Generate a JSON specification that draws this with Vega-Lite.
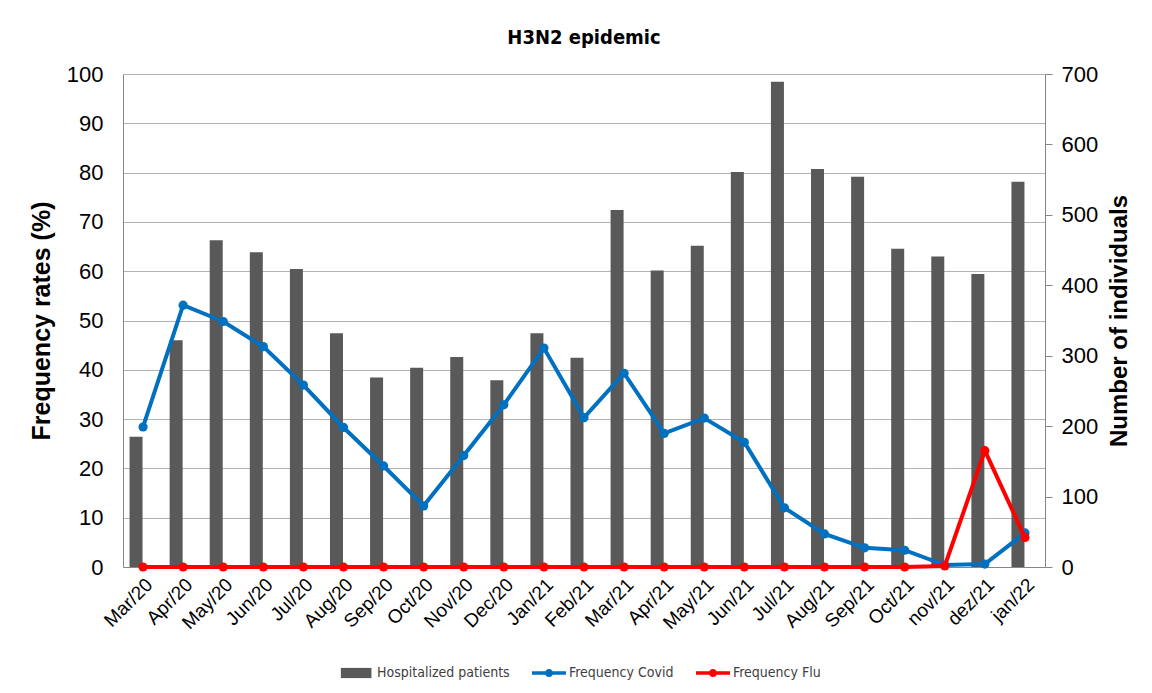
{
  "$schema": "https://vega.github.io/schema/vega-lite/v6.json",
  "width": 922,
  "height": 493,
  "autosize": {"type": "none"},
  "padding": {"left": 123, "top": 74, "right": 107, "bottom": 126},
  "background": "white",
  "title": {
    "text": "H3N2 epidemic",
    "font": "Liberation Sans Narrow, DejaVu Sans Condensed, Roboto",
    "fontSize": 20,
    "fontWeight": "bold",
    "color": "#000000",
    "anchor": "middle",
    "offset": 15
  },
  "config": {
    "view": {"stroke": null},
    "axis": {
      "labelFont": "Liberation Sans",
      "titleFont": "Liberation Sans",
      "labelColor": "#000000",
      "titleColor": "#000000",
      "domainColor": "#868686",
      "tickColor": "#868686",
      "gridColor": "#b3b3b3"
    }
  },
  "data": {
    "values": [
      {"month": "Mar/20", "hospitalized": 185, "covid": 28.4, "flu": 0},
      {"month": "Apr/20", "hospitalized": 322, "covid": 53.1, "flu": 0},
      {"month": "May/20", "hospitalized": 464, "covid": 49.8, "flu": 0},
      {"month": "Jun/20", "hospitalized": 447, "covid": 44.7, "flu": 0},
      {"month": "Jul/20", "hospitalized": 423, "covid": 36.9, "flu": 0},
      {"month": "Aug/20", "hospitalized": 332, "covid": 28.3, "flu": 0},
      {"month": "Sep/20", "hospitalized": 269, "covid": 20.5, "flu": 0},
      {"month": "Oct/20", "hospitalized": 283, "covid": 12.4, "flu": 0},
      {"month": "Nov/20", "hospitalized": 298, "covid": 22.6, "flu": 0},
      {"month": "Dec/20", "hospitalized": 265, "covid": 32.9, "flu": 0},
      {"month": "Jan/21", "hospitalized": 332, "covid": 44.4, "flu": 0},
      {"month": "Feb/21", "hospitalized": 297, "covid": 30.3, "flu": 0},
      {"month": "Mar/21", "hospitalized": 507, "covid": 39.3, "flu": 0},
      {"month": "Apr/21", "hospitalized": 421, "covid": 27.1, "flu": 0},
      {"month": "May/21", "hospitalized": 456, "covid": 30.2, "flu": 0},
      {"month": "Jun/21", "hospitalized": 561, "covid": 25.3, "flu": 0},
      {"month": "Jul/21", "hospitalized": 689, "covid": 12.0, "flu": 0},
      {"month": "Aug/21", "hospitalized": 565, "covid": 6.7, "flu": 0},
      {"month": "Sep/21", "hospitalized": 554, "covid": 3.9, "flu": 0},
      {"month": "Oct/21", "hospitalized": 452, "covid": 3.4, "flu": 0},
      {"month": "nov/21", "hospitalized": 441, "covid": 0.4, "flu": 0.2},
      {"month": "dez/21", "hospitalized": 416, "covid": 0.6, "flu": 23.6},
      {"month": "jan/22", "hospitalized": 547, "covid": 6.9, "flu": 6.0}
    ]
  },
  "encoding": {
    "x": {
      "field": "month",
      "type": "nominal",
      "sort": null,
      "scale": {"paddingInner": 0, "paddingOuter": 0},
      "axis": {
        "title": null,
        "labelAngle": -45,
        "labelFontSize": 19,
        "labelPadding": 8,
        "ticks": false,
        "domain": true,
        "grid": false
      }
    }
  },
  "layer": [
    {
      "mark": {"type": "bar", "size": 13, "xOffset": -7},
      "encoding": {
        "y": {
          "field": "hospitalized",
          "type": "quantitative",
          "scale": {"domain": [0, 700], "nice": false},
          "axis": {
            "orient": "right",
            "title": "Number of individuals",
            "titleFontSize": 24,
            "titleFontWeight": "bold",
            "titleAngle": -90,
            "titleBaseline": "top",
            "titlePadding": 10,
            "labelFontSize": 22,
            "labelPadding": 9,
            "labelOverlap": false,
            "tickSize": 7,
            "values": [0, 100, 200, 300, 400, 500, 600, 700],
            "grid": false
          }
        },
        "color": {
          "datum": "Hospitalized patients",
          "type": "nominal",
          "scale": {
            "domain": ["Hospitalized patients", "Frequency Covid", "Frequency Flu"],
            "range": ["#595959", "#0070C0", "#FF0000"]
          },
          "legend": {
            "orient": "none",
            "legendX": 217,
            "legendY": 582,
            "direction": "horizontal",
            "title": null,
            "labelFont": "Liberation Sans Narrow, DejaVu Sans Condensed, Roboto",
            "labelFontSize": 14,
            "labelColor": "#404040",
            "labelOffset": 3,
            "columnPadding": 22,
            "symbolSize": 1156,
            "symbolStrokeWidth": 0,
            "encode": {
              "symbols": {
                "update": {
                  "shape": {"signal": "datum.value === 'Hospitalized patients' ? 'M-0.95,-0.3H0.85V0.3H-0.95Z' : 'M-1,-0.1H1V0.1H-1Z M0.24,0A0.24,0.24 0 1,1 -0.24,0A0.24,0.24 0 1,1 0.24,0Z'"},
                  "fill": {"signal": "datum.value === 'Hospitalized patients' ? '#595959' : (datum.value === 'Frequency Covid' ? '#0070C0' : '#FF0000')"},
                  "stroke": {"value": "transparent"},
                  "opacity": {"value": 1}
                }
              }
            }
          }
        }
      }
    },
    {
      "layer": [
        {
          "mark": {"type": "line", "strokeWidth": 4, "point": {"filled": true, "size": 85}},
          "encoding": {
            "y": {
              "field": "covid",
              "type": "quantitative",
              "scale": {"domain": [0, 100], "nice": false},
              "axis": {
                "orient": "left",
                "title": "Frequency rates (%)",
                "titleFontSize": 25,
                "titleFontWeight": "bold",
                "titlePadding": 12,
                "labelFontSize": 22,
                "labelPadding": 20,
                "ticks": false,
                "values": [0, 10, 20, 30, 40, 50, 60, 70, 80, 90, 100],
                "grid": true
              }
            },
            "color": {"datum": "Frequency Covid", "type": "nominal"}
          }
        },
        {
          "mark": {"type": "line", "strokeWidth": 4, "point": {"filled": true, "size": 85}},
          "encoding": {
            "y": {"field": "flu", "type": "quantitative"},
            "color": {"datum": "Frequency Flu", "type": "nominal"}
          }
        }
      ]
    }
  ],
  "resolve": {"scale": {"y": "independent"}}
}
